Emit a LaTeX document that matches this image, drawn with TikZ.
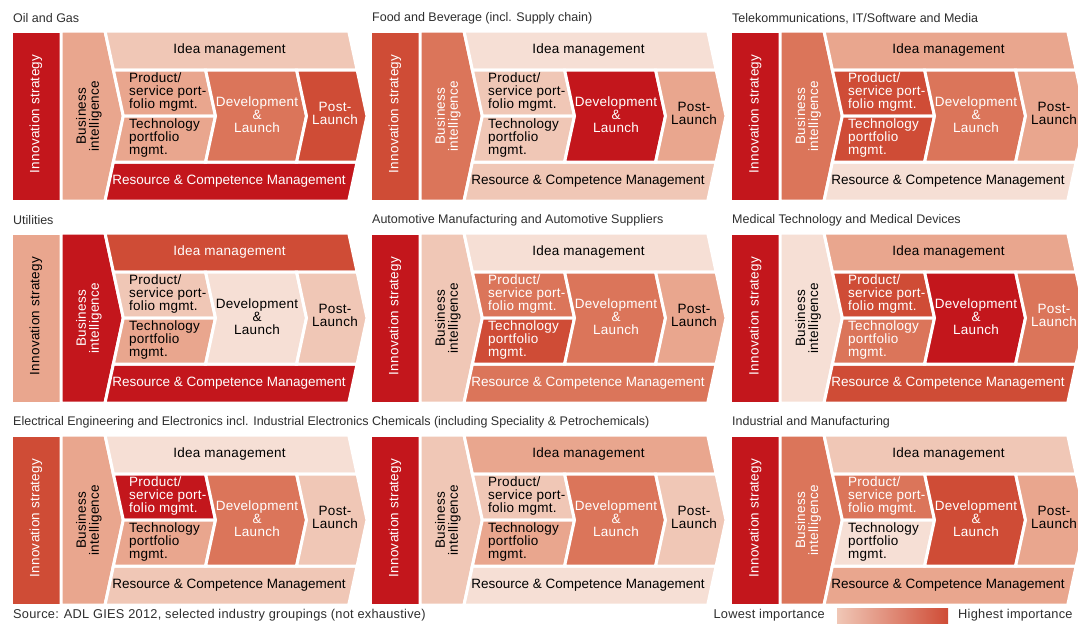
\documentclass[tikz,border=0pt]{standalone}
\usepackage{fontspec}
\setmainfont{Liberation Sans}
\newfontfamily\labelfont[LetterSpace=2]{Liberation Sans}
\usepackage{xcolor}
\usepackage{tikz}
\usetikzlibrary{positioning}

% importance shades, lightest (A) to highest (F)
\definecolor{shadeA}{HTML}{F6DFD5}
\definecolor{shadeB}{HTML}{F0C7B6}
\definecolor{shadeC}{HTML}{E9A68E}
\definecolor{shadeD}{HTML}{DB755A}
\definecolor{shadeE}{HTML}{CF4C36}
\definecolor{shadeF}{HTML}{C3161C}
\colorlet{inkA}{black}
\colorlet{inkB}{black}
\colorlet{inkC}{black}
\colorlet{inkD}{white}
\colorlet{inkE}{white}
\colorlet{inkF}{white}
\definecolor{titlegray}{HTML}{2E2E2E}

\begin{document}
\begin{tikzpicture}[x=1pt,y=-1pt,
  piece/.style={draw=white,line width=3pt,line join=miter},
  lbl/.style={inner sep=0pt,font=\labelfont\fontsize{13.5}{13}\selectfont},
  band/.style={inner sep=0pt,font=\fontsize{13.5}{13}\selectfont},
  ttl/.style={inner sep=0pt,anchor=west,text=titlegray,font=\fontsize{12.5}{14}\selectfont},
  note/.style={inner sep=0pt,anchor=west,text=titlegray,font=\labelfont\fontsize{12.8}{14}\selectfont}]
\useasboundingbox (0,0) rectangle (1078,624);
\clip (0,0) rectangle (1078,624);
% one panel per industry: offset / title / shade of each phase
\foreach \ox/\oy/\hdr/\cis/\cbi/\cid/\cpr/\cte/\cdv/\cpo/\crs [count=\n] in {
  0/0/{Oil and Gas}/F/C/B/C/C/D/E/F,
  359/0/{Food and Beverage (incl. Supply chain)}/E/D/A/B/B/F/C/B,
  719/0/{Telekommunications, IT/Software and Media}/F/D/C/E/E/D/C/A,
  0/202/{Utilities}/C/F/E/B/C/A/B/F,
  359/202/{Automotive Manufacturing and Automotive Suppliers}/F/B/A/D/E/D/C/D,
  719/202/{Medical Technology and Medical Devices}/F/A/C/E/D/F/D/E,
  0/404/{Electrical Engineering and Electronics incl. Industrial Electronics}/E/C/A/F/C/D/B/B,
  359/404/{Chemicals (including Speciality \& Petrochemicals)}/F/B/C/B/C/D/B/A,
  719/404/{Industrial and Manufacturing}/F/D/B/D/A/E/C/C}
{
\begin{scope}[shift={(\ox,\oy)}]
\node[ttl] (hdr\n) at (13,18.5) {\hdr};
\path[piece,fill=shade\cis] (11.5,31) rectangle (61,201);
\path[piece,fill=shade\cbi] (61,31) -- (105,31) -- (123.3,116) -- (105,201) -- (61,201) -- cycle;
\path[piece,fill=shade\cid] (105,31) -- (348.7,31) -- (357.1,70) -- (113.4,70) -- cycle;
\path[piece,fill=shade\crs] (113.4,162) -- (357.1,162) -- (348.7,201) -- (105,201) -- cycle;
\path[piece,fill=shade\cpr] (113.4,70) -- (205.6,70) -- (215.5,116) -- (123.3,116) -- cycle;
\path[piece,fill=shade\cte] (123.3,116) -- (215.5,116) -- (205.6,162) -- (113.4,162) -- cycle;
\path[piece,fill=shade\cdv] (205.6,70) -- (296.6,70) -- (306.5,116) -- (296.6,162) -- (205.6,162) -- (215.5,116) -- cycle;
\path[piece,fill=shade\cpo] (296.6,70) -- (357.1,70) -- (367,116) -- (357.1,162) -- (296.6,162) -- (306.5,116) -- cycle;
\node[lbl,rotate=90,text=ink\cis] (is\n) at (36,114) {Innovation strategy};
\node[lbl,rotate=90,align=center,text=ink\cbi] (bi\n) at (89,116) {Business\\intelligence};
\node[lbl,text=ink\cid] (idea\n) at (229.5,50) {Idea management};
\node[lbl,anchor=west,align=left,text=ink\cpr] (prod\n) at (129,92.5) {Product/\\service port-\\folio mgmt.};
\node[lbl,anchor=west,align=left,text=ink\cte] (tech\n) at (129,138) {Technology\\portfolio\\mgmt.};
\node[lbl,align=center,text=ink\cdv] (dev\n) at (257,114.5) {Development\\\&\\Launch};
\node[lbl,align=center,text=ink\cpo] (post\n) at (335,113) {Post-\\Launch};
\node[band,text=ink\crs] (res\n) at (229,181) {Resource \& Competence Management};
\end{scope}
}
% source line and legend
\node[note] (src) at (13,615) {Source: ADL GIES 2012, selected industry groupings (not exhaustive)};
\node[note,anchor=east] (low) at (825,615) {Lowest importance};
\shade[left color=shadeB,right color=shadeE] (837,608) rectangle (948,623.5);
\node[note] (high) at (958,615) {Highest importance};
\end{tikzpicture}
\end{document}
